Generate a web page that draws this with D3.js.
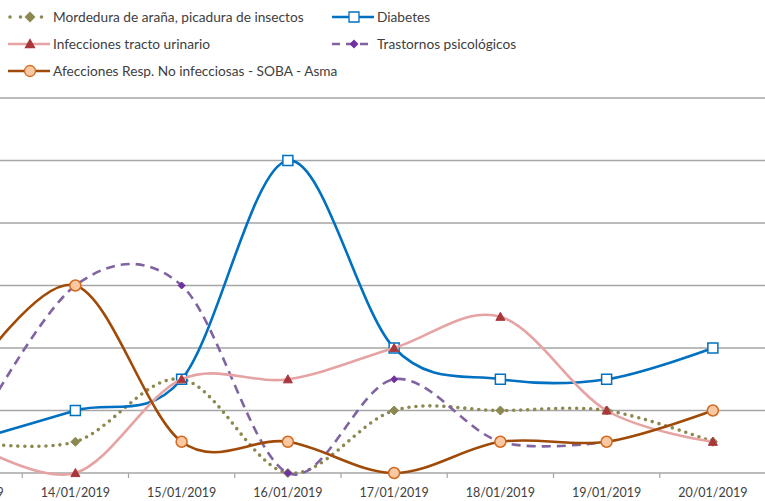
<!DOCTYPE html>
<html>
<head>
<meta charset="utf-8">
<script src="https://cdn.jsdelivr.net/npm/d3@7"></script>
<style>
  html, body { margin: 0; padding: 0; background: #fff; }
  svg { display: block; font-family: "Lato", "Open Sans", sans-serif; }
</style>
</head>
<body>
<svg id="chart" width="765" height="501"></svg>
<script>
// Daily case counts per diagnosis group
const dates = ["13/01/2019", "14/01/2019", "15/01/2019", "16/01/2019",
               "17/01/2019", "18/01/2019", "19/01/2019", "20/01/2019"];
const mordedura   = [1, 1, 3, 0, 2, 2, 2, 1];
const diabetes    = [1, 2, 3, 10, 4, 3, 3, 4];
const trastornos  = [1, 6, 6, 0, 3, 1, 1, null];
const infecciones = [1, 0, 3, 3, 4, 5, 2, 1];
const afecciones  = [3, 6, 1, 1, 0, 1, 1, 2];
const yTicks = [0, 2, 4, 6, 8, 10, 12];

const series = [
  { name: "Mordedura de araña, picadura de insectos", values: mordedura,
    color: "#8C8850", width: 3.6, dash: "0 7", cap: "round", marker: "diamond", mSize: 9,
    mFill: "#8C8850", mStroke: "#8C8850" },
  { name: "Diabetes", values: diabetes,
    color: "#0070C0", width: 2.6, dash: null, cap: "butt", marker: "square", mSize: 10,
    mFill: "#ffffff", mStroke: "#0070C0" },
  { name: "Trastornos psicológicos", values: trastornos,
    color: "#8064A2", width: 2.6, dash: "9 6", cap: "butt", marker: "diamond", mSize: 7,
    mFill: "#7030A0", mStroke: "#7030A0" },
  { name: "Infecciones tracto urinario", values: infecciones,
    color: "#E6A3A3", width: 2.6, dash: null, cap: "butt", marker: "triangle", mSize: 9,
    mFill: "#A8383C", mStroke: "#A8383C" },
  { name: "Afecciones Resp. No infecciosas - SOBA - Asma", values: afecciones,
    color: "#A04A08", width: 2.6, dash: null, cap: "butt", marker: "circle", mSize: 11,
    mFill: "#FAC9A4", mStroke: "#D2691E" }
];

const svg = d3.select("#chart");
const W = 765, H = 501;

const x = d3.scaleBand().domain(dates).range([-84, 766]);
const xc = d => x(d) + x.bandwidth() / 2;
const y = d3.scaleLinear().domain([0, 12]).range([473, 98]);

// horizontal gridlines
svg.append("g").selectAll("line")
  .data(yTicks.filter(t => t > 0))
  .join("line")
  .attr("x1", 0).attr("x2", W)
  .attr("y1", d => y(d)).attr("y2", d => y(d))
  .attr("stroke", "#A6A6A6").attr("stroke-width", 1.4);

// category axis with tick marks on band boundaries
const axisG = svg.append("g");
axisG.append("line")
  .attr("x1", 0).attr("x2", W)
  .attr("y1", y(0)).attr("y2", y(0))
  .attr("stroke", "#A6A6A6").attr("stroke-width", 1.4);
axisG.selectAll("line.tick")
  .data(dates)
  .join("line").attr("class", "tick")
  .attr("x1", d => x(d)).attr("x2", d => x(d))
  .attr("y1", y(0)).attr("y2", y(0) + 5)
  .attr("stroke", "#A6A6A6").attr("stroke-width", 1.2);
axisG.selectAll("text")
  .data(dates)
  .join("text")
  .attr("x", d => xc(d)).attr("y", 497)
  .attr("text-anchor", "middle")
  .attr("font-size", 12.5)
  .attr("fill", "#404040")
  .text(d => d);

const line = d3.line()
  .defined(d => d.v !== null)
  .x(d => xc(d.date))
  .y(d => y(d.v))
  .curve(d3.curveCardinal.tension(0));

function markerPath(type, s) {
  const h = s / 2;
  if (type === "diamond") return `M0,${-h}L${h},0L0,${h}L${-h},0Z`;
  if (type === "square") return `M${-h},${-h}H${h}V${h}H${-h}Z`;
  if (type === "triangle") return `M0,${-h}L${h},${h * 0.8}L${-h},${h * 0.8}Z`;
  return d3.symbol(d3.symbolCircle, Math.PI * h * h)();
}

series.forEach(s => {
  const pts = dates.map((d, i) => ({ date: d, v: s.values[i] }));
  const g = svg.append("g");
  g.append("path")
    .datum(pts)
    .attr("d", line)
    .attr("fill", "none")
    .attr("stroke", s.color)
    .attr("stroke-width", s.width)
    .attr("stroke-linecap", s.cap)
    .attr("stroke-dasharray", s.dash);
  g.selectAll("path.m")
    .data(pts.filter(p => p.v !== null))
    .join("path").attr("class", "m")
    .attr("transform", p => `translate(${xc(p.date)},${y(p.v)})`)
    .attr("d", markerPath(s.marker, s.mSize))
    .attr("fill", s.mFill)
    .attr("stroke", s.mStroke)
    .attr("stroke-width", s.marker === "square" || s.marker === "circle" ? 1.5 : 1);
});

// legend
const legendPos = {
  "Mordedura de araña, picadura de insectos": [8, 17],
  "Diabetes": [332, 17],
  "Infecciones tracto urinario": [8, 44],
  "Trastornos psicológicos": [332, 44],
  "Afecciones Resp. No infecciosas - SOBA - Asma": [8, 71]
};
series.forEach(s => {
  const [lx, ly] = legendPos[s.name];
  const g = svg.append("g").attr("transform", `translate(${lx},${ly})`);
  g.append("line")
    .attr("x1", s.dash === "0 7" ? 2 : 0).attr("x2", 42)
    .attr("y1", 0).attr("y2", 0)
    .attr("stroke", s.color)
    .attr("stroke-width", s.width)
    .attr("stroke-linecap", s.cap)
    .attr("stroke-dasharray", s.dash === "0 7" ? "0 10.5" : (s.dash ? "8 6" : null));
  g.append("path")
    .attr("transform", "translate(22,0)")
    .attr("d", markerPath(s.marker, s.mSize))
    .attr("fill", s.mFill)
    .attr("stroke", s.mStroke)
    .attr("stroke-width", 1.3);
  g.append("text")
    .attr("x", 45).attr("y", 4.8)
    .attr("font-size", 13.7)
    .attr("fill", "#404040")
    .text(s.name);
});
</script>
</body>
</html>
